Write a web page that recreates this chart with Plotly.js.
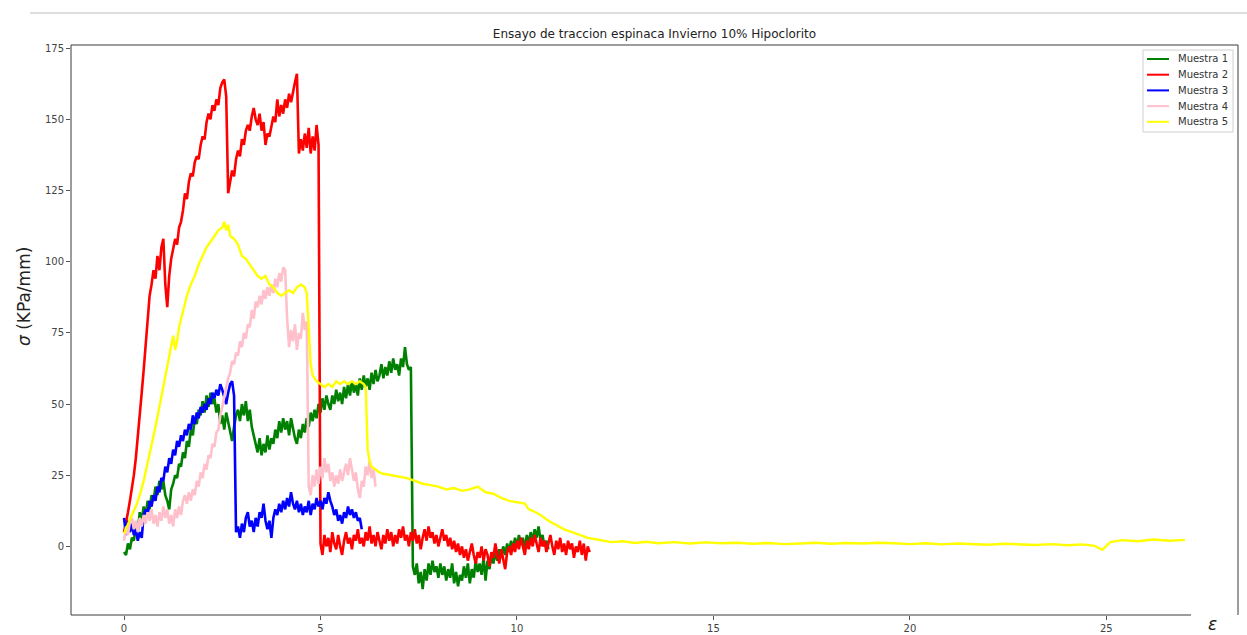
<!DOCTYPE html>
<html>
<head>
<meta charset="utf-8">
<script src="https://cdn.plot.ly/plotly-3.0.1.min.js"></script>
<style>html,body{margin:0;padding:0;background:#fff;}#chart{width:1247px;height:635px;}</style>
</head>
<body>
<div id="chart"></div>
<script>
// ---- data ----
const seriesNames = ["Muestra 1", "Muestra 2", "Muestra 3", "Muestra 4", "Muestra 5"];
const seriesColors = ["#008000", "#ff0000", "#0000ff", "#ffc0cb", "#ffff00"];
const xTickVals = [0, 5, 10, 15, 20, 25];
const yTickVals = [0, 25, 50, 75, 100, 125, 150, 175];

// strain sampling step for the noisy samples (strain, unitless)
const strainStep = 0.05;

// Muestra 1 (green), sampled every 0.05 from 0
const m1Stress = [
  -2,-3,1,-1,3,2,7,5,12,9,
  14,11,16,13,18,16,21,18,23,20,
  23,18,16,13,20,22,25,24,29,28,
  33,31,37,35,41,39,45,43,48,46,
  51,47,53,49,54,50,52,47,50,43,
  46,41,47,44,40,37,42,46,48,44,
  50,46,51,44,48,42,39,36,33,38,
  32,36,33,39,34,38,36,41,38,44,
  40,45,41,44,39,45,41,38,36,41,
  38,43,40,45,42,47,44,48,45,50,
  47,52,48,53,50,48,53,50,55,51,
  54,50,56,52,57,53,58,54,57,53,
  59,55,60,56,59,55,61,57,62,58,
  60,64,59,63,60,65,61,66,62,64,
  60,66,63,70,64,62,63,-7,-10,-6,
  -13,-9,-15,-8,-12,-6,-10,-5,-9,-7,
  -11,-6,-10,-7,-12,-8,-11,-6,-13,-9,
  -14,-10,-12,-7,-11,-6,-13,-8,-11,-5,
  -9,-6,-10,-4,-12,-5,-8,-3,-6,-2,
  -5,-1,-4,0,-3,1,-2,2,-1,3,
  0,4,1,3,-1,4,1,5,2,6,
  3,7,2,4,0,2,-1
];

// Muestra 2 (red), sampled every 0.05 from 0
const m2Stress = [
  5,8,12,16,20,25,31,38,46,54,
  62,70,78,88,92,97,94,102,97,105,
  108,92,84,95,101,104,108,106,112,114,
  118,124,122,128,131,130,135,137,136,141,
  144,143,149,152,150,155,153,157,155,161,
  163,164,158,124,128,132,130,136,139,137,
  143,141,146,148,146,151,154,150,148,152,
  146,149,141,145,144,148,151,149,157,151,
  155,152,157,154,159,156,160,163,166,138,
  143,139,145,140,147,138,144,139,148,141,
  1,-3,4,0,3,-2,5,1,-1,4,
  0,-3,2,5,1,3,-1,4,2,6,
  1,3,0,5,2,7,1,4,0,5,
  2,-1,4,1,6,2,5,0,4,1,
  6,3,7,2,4,0,5,2,6,1,
  4,-1,3,6,2,7,3,5,1,4,
  0,3,6,2,4,0,3,-1,2,-2,
  1,-3,0,-4,-1,-5,-2,1,-3,-6,
  -2,-4,0,-5,-1,-3,-7,-2,-4,1,
  -3,-6,-1,-4,-8,-2,0,-3,1,-2,
  2,-1,3,0,-3,2,-1,3,0,4,
  1,-2,3,0,2,-2,1,4,0,-3,
  2,-1,3,-2,1,-3,2,-1,1,-4,
  0,-2,2,-3,1,-5,0,-2
];

// Muestra 3 (blue), sampled every 0.05 from 0
const m3Stress = [
  10,4,9,5,8,4,6,2,5,3,
  11,13,11,16,14,18,16,21,19,24,
  23,28,26,31,29,34,32,37,35,39,
  37,41,39,43,41,46,43,47,45,49,
  47,50,48,52,50,54,52,55,53,57,
  55,52,50,54,57,58,53,5,7,3,
  8,5,10,12,7,9,5,10,7,12,
  10,15,9,6,9,3,10,13,11,15,
  12,16,13,17,14,19,15,13,16,12,
  15,11,14,12,16,11,15,13,17,14,
  16,13,17,15,19,16,14,11,13,9,
  11,8,12,10,14,11,13,10,12,9,
  10,6
];

// Muestra 4 (pink), sampled every 0.05 from 0
const m4Stress = [
  2,7,4,9,10,6,9,5,10,7,
  11,8,12,9,13,8,11,7,12,9,
  14,10,13,8,11,7,13,10,14,11,
  16,18,15,19,16,20,18,23,21,26,
  24,29,27,32,31,36,35,40,41,46,
  49,53,56,59,61,65,64,68,67,72,
  70,75,73,78,77,83,80,86,84,88,
  85,90,87,91,88,92,89,94,91,96,
  93,98,97,80,70,76,72,78,69,75,
  73,82,76,79,21,18,25,21,27,22,
  28,24,31,26,29,23,26,21,25,22,
  27,23,26,29,25,31,27,23,26,20,
  17,23,21,28,25,30,24,27,21
];

// Muestra 5 (yellow), explicit strain / stress pairs
const m5Strain = [
  0,0.1,0.2,0.3,0.4,0.5,0.6,0.7,0.8,0.9,1.0,1.1,1.2,
  1.25,1.3,1.35,1.4,
  1.5,1.6,1.7,1.8,1.9,2.0,2.1,2.2,2.3,2.4,2.5,
  2.55,2.6,2.65,2.7,
  2.8,2.9,3.0,3.1,3.2,3.3,3.4,3.5,3.6,3.7,3.8,3.9,4.0,4.1,4.2,4.3,4.4,4.5,4.6,
  4.65,4.7,4.75,4.8,
  4.9,5.0,5.1,5.2,5.3,5.4,5.5,5.6,5.7,5.8,5.9,6.0,6.1,
  6.15,6.2,6.25,6.3,
  6.4,6.5,6.6,
  6.8,7.0,7.2,7.4,7.6,7.8,8.0,8.2,8.4,8.6,8.8,9.0,9.2,9.4,9.6,9.8,10.0,10.2,10.3,10.4,10.6,10.8,11.0,11.2,11.4,11.6,11.8,12.0,12.2,12.4,
  12.7,13.0,13.3,13.6,
  14.0,14.4,14.8,15.2,15.6,16.0,16.4,16.8,17.2,17.6,18.0,18.4,18.8,19.2,19.6,20.0,20.4,20.8,21.2,21.6,22.0,22.4,22.8,23.2,23.6,24.0,24.4,
  24.7,24.9,25.1,25.4,25.8,26.2,26.6,27.0
];
const m5Stress = [
  4.5,8,11,14,18,23,29,36,42,49,56,63,71,
  74,69,72,77,
  83,88,92,95,99,102,105,107,109,111,112,
  114,111,113,109,
  108,106,102,101,99,97,95,94,95,92,91,89,88,89,90,89,91,92,91,
  89,74,64,60,
  58,57,56,57,56,58,57,58,57,58,57,58,57,
  56,34,30,28,
  27,26,25.5,
  25,24.5,24,23,22,21.5,21,20,20.5,19.5,20,21,19,18.5,17,16,15.5,15,13,12.5,11,9,7.5,6,5,4,3,2.5,2,1.5,
  1.8,1.2,1.6,1.1,
  1.5,1.0,1.4,1.1,1.3,0.9,1.2,0.8,1.0,1.3,0.9,1.2,1.0,1.3,1.1,0.8,1.1,0.7,1.0,0.8,0.6,0.9,0.7,0.5,0.8,0.4,0.7,
  0.2,-1.2,1.5,2.2,1.8,2.4,2.0,2.3
];

// ---- build traces ----
function sampledStrain(values) {
  return values.map((_, i) => Math.round(i * strainStep * 100) / 100);
}
const seriesStrain = [sampledStrain(m1Stress), sampledStrain(m2Stress), sampledStrain(m3Stress), sampledStrain(m4Stress), m5Strain];
const seriesStress = [m1Stress, m2Stress, m3Stress, m4Stress, m5Stress];

const traces = seriesNames.map((name, k) => ({
  type: "scatter",
  mode: "lines",
  name: name,
  x: seriesStrain[k],
  y: seriesStress[k],
  line: { color: seriesColors[k], width: k === 4 ? 2.4 : 2.6 },
  showlegend: false,
  hoverinfo: "skip"
}));

// ---- layout helpers (pixel -> paper) ----
const PL = 71, PR = 1238, PT = 45, PB = 615;
const xp = px => (px - PL) / (PR - PL);
const yp = py => (PB - py) / (PB - PT);

const axisFont = { family: "DejaVu Sans", size: 10, color: "#444" };
const spine = { color: "#3a3a3a", width: 1 };

const shapes = [
  { type: "line", xref: "paper", yref: "paper", x0: 0, x1: 0, y0: 0, y1: 1, line: spine },
  { type: "line", xref: "paper", yref: "paper", x0: 0, x1: 1, y0: 1, y1: 1, line: spine },
  { type: "line", xref: "paper", yref: "paper", x0: 1, x1: 1, y0: 0, y1: 1, line: spine },
  { type: "line", xref: "paper", yref: "paper", x0: 0, x1: xp(1191), y0: 0, y1: 0, line: spine },
  { type: "line", xref: "paper", yref: "paper", x0: xp(30), x1: xp(1247), y0: yp(13), y1: yp(13), line: { color: "#dddddd", width: 2 } },
  // legend frame
  { type: "rect", xref: "paper", yref: "paper", x0: xp(1143), x1: xp(1233), y0: yp(132), y1: yp(50),
    line: { color: "#d0d0d0", width: 1 }, fillcolor: "rgba(255,255,255,0.85)", layer: "above" }
];

const annotations = [
  {
    text: "<i>σ</i> (KPa/mm)",
    xref: "paper", yref: "paper",
    x: xp(24), y: yp(297),
    xanchor: "center", yanchor: "middle",
    textangle: -90, showarrow: false,
    font: { family: "DejaVu Sans", size: 17, color: "#222" }
  },
  {
    text: "<i>ε</i>",
    xref: "paper", yref: "paper",
    x: xp(1212), y: yp(624),
    xanchor: "center", yanchor: "middle",
    showarrow: false,
    font: { family: "DejaVu Sans", size: 17, color: "#222" }
  }
];

// legend entries (manual, matplotlib-like compact spacing)
seriesNames.forEach((name, k) => {
  const rowY = 59 + k * 15.7;
  shapes.push({ type: "line", xref: "paper", yref: "paper", x0: xp(1147), x1: xp(1169), y0: yp(rowY), y1: yp(rowY),
    line: { color: seriesColors[k], width: 2 }, layer: "above" });
  annotations.push({ text: name, xref: "paper", yref: "paper", x: xp(1176), y: yp(rowY),
    xanchor: "left", yanchor: "middle", showarrow: false,
    font: { family: "DejaVu Sans", size: 10, color: "#333" } });
});

const layout = {
  width: 1247,
  height: 635,
  margin: { l: PL, r: 1247 - PR, t: PT, b: 635 - PB, pad: 0 },
  paper_bgcolor: "#ffffff",
  plot_bgcolor: "#ffffff",
  showlegend: false,
  title: {
    text: "Ensayo de traccion espinaca Invierno 10% Hipoclorito",
    font: { family: "DejaVu Sans", size: 12, color: "#222" },
    x: 0.5, xref: "paper", xanchor: "center",
    y: 1 - 34 / 635, yref: "container", yanchor: "middle"
  },
  xaxis: {
    range: [-1.35, 28.35],
    tickmode: "array", tickvals: xTickVals,
    ticks: "outside", ticklen: 4, tickcolor: "#555", tickwidth: 1,
    tickfont: axisFont,
    showgrid: false, zeroline: false, showline: false
  },
  yaxis: {
    range: [-24.1, 176.1],
    tickmode: "array", tickvals: yTickVals,
    ticks: "outside", ticklen: 4, tickcolor: "#555", tickwidth: 1,
    tickfont: axisFont,
    showgrid: false, zeroline: false, showline: false
  },
  shapes: shapes,
  annotations: annotations
};

Plotly.newPlot("chart", traces, layout, { displayModeBar: false, staticPlot: true });
</script>
</body>
</html>
